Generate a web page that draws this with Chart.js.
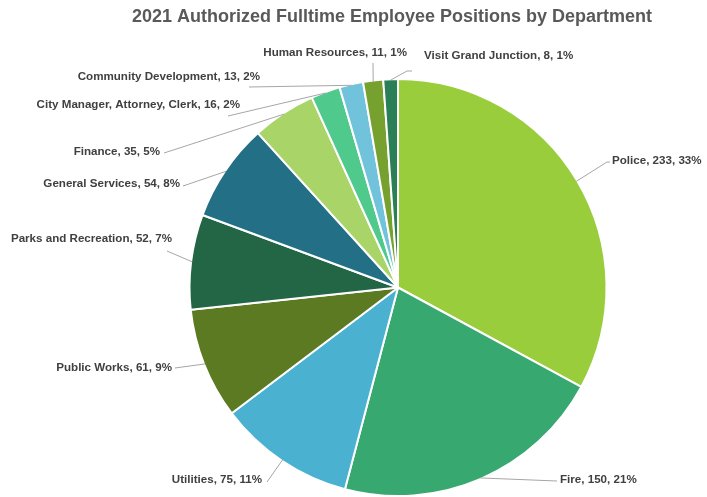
<!DOCTYPE html>
<html>
<head>
<meta charset="utf-8">
<script src="https://cdn.jsdelivr.net/npm/chart.js@4"></script>
<style>
  html, body { margin:0; padding:0; background:#fff; }
  #wrap { width:707px; height:497px; position:relative; }
</style>
</head>
<body>
<div id="wrap"><canvas id="pieChart" width="707" height="497"></canvas></div>
<script>
const departments = ['Police', 'Fire', 'Utilities', 'Public Works', 'Parks and Recreation', 'General Services',
  'Finance', 'City Manager, Attorney, Clerk', 'Community Development', 'Human Resources', 'Visit Grand Junction'];
const positions = [233, 150, 75, 61, 52, 54, 35, 16, 13, 11, 8];
const percents = [33, 21, 11, 9, 7, 8, 5, 2, 2, 1, 1];
const colors = ['#9acd3c', '#37a86f', '#4ab1d0', '#5b7a22', '#226645', '#236f86',
  '#a9d467', '#50c98d', '#71c2db', '#77a12f', '#2b7f57'];

// where each label sits and how its leader line bends (text anchor + bend points)
const labelSpots = [
  {x:612, y:161, align:'left',  path:[[607,162],[610,162]]},
  {x:560, y:480, align:'left',  path:[[557,481]]},
  {x:262, y:480, align:'right', path:[[267,482]]},
  {x:172, y:368, align:'right', path:[[175,368]]},
  {x:172, y:239, align:'right', path:[[167,251]]},
  {x:180, y:184, align:'right', path:[[183,186]]},
  {x:160, y:152, align:'right', path:[[164,153]]},
  {x:240, y:105, align:'right', path:[[228,116]]},
  {x:260, y:77,  align:'right', path:[[249,87]]},
  {x:407, y:53,  align:'right', path:[[373,63]]},
  {x:424, y:56,  align:'left',  path:[[407,71],[412,71]]}
];

const outsideLabels = {
  id:'outsideLabels',
  afterDraw(chart){
    const ctx = chart.ctx;
    const meta = chart.getDatasetMeta(0);
    ctx.save();
    // title
    ctx.font = 'bold 18px "Liberation Sans", Arial, sans-serif';
    ctx.fillStyle = '#595959';
    ctx.textAlign = 'center';
    ctx.textBaseline = 'middle';
    ctx.fillText('2021 Authorized Fulltime Employee Positions by Department', 392, 17);

    meta.data.forEach(function(arc, i){
      const p = arc.getProps(['x','y','startAngle','endAngle','outerRadius'], true);
      const mid = (p.startAngle + p.endAngle) / 2;
      const sx = p.x + Math.cos(mid) * (p.outerRadius - 1);
      const sy = p.y + Math.sin(mid) * (p.outerRadius - 1);
      const spot = labelSpots[i];
      ctx.strokeStyle = '#a6a6a6';
      ctx.lineWidth = 1;
      ctx.beginPath();
      ctx.moveTo(sx, sy);
      spot.path.forEach(pt => ctx.lineTo(pt[0], pt[1]));
      ctx.stroke();
      ctx.font = 'bold 11.6px "Liberation Sans", Arial, sans-serif';
      ctx.fillStyle = '#404040';
      ctx.textAlign = spot.align;
      ctx.textBaseline = 'middle';
      ctx.fillText(departments[i] + ', ' + positions[i] + ', ' + percents[i] + '%', spot.x, spot.y);
    });
    ctx.restore();
  }
};

const chart = new Chart(document.getElementById('pieChart'), {
  type:'pie',
  data:{
    labels:departments,
    datasets:[{
      data:positions,
      backgroundColor:colors,
      borderColor:'#ffffff',
      borderWidth:2
    }]
  },
  options:{
    responsive:false,
    animation:false,
    layout:{padding:{top:78, bottom:0, left:100, right:11}},
    plugins:{
      legend:{display:false},
      title:{display:false},
      tooltip:{enabled:false}
    }
  },
  plugins:[outsideLabels]
});
</script>
</body>
</html>
